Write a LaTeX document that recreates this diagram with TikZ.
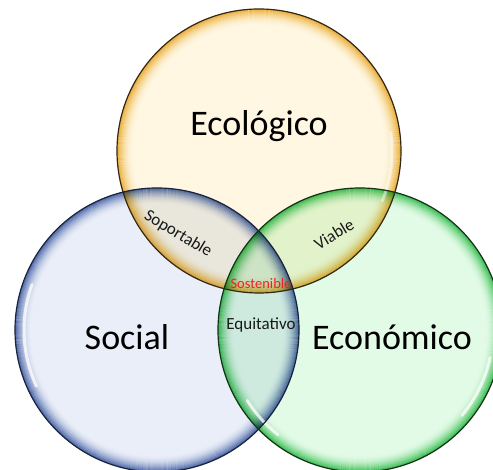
\documentclass[tikz,border=0pt]{standalone}
\usepackage{fontspec}
\setmainfont{Carlito}
\usetikzlibrary{calc}
\definecolor{ecoin}{HTML}{FFF7E2}
\definecolor{ecorim}{HTML}{EDB634}
\definecolor{socin}{HTML}{E9EEF8}
\definecolor{socrim}{HTML}{4D6CB0}
\definecolor{ecnin}{HTML}{E2FBE6}
\definecolor{ecnrim}{HTML}{36C455}
\definecolor{sostred}{HTML}{E8242A}
\tikzset{
  bigtxt/.style={font=\fontsize{36}{40}\selectfont, text=black, inner sep=0pt},
  smalltxt/.style={font=\fontsize{17}{20}\selectfont, text=black!90, inner sep=0pt},
  rimline/.style={line width=1.2pt},
  gloss/.style={white, line width=3pt, line cap=round, opacity=0.75},
}
\newcommand{\glassdisc}[3]{%
  \fill[#2] (#1) circle (142);
  \foreach \i in {0,...,15}{%
    \pgfmathsetmacro{\op}{0.85*(1-\i/16)^2}%
    \draw[#3, line width=1.15pt, draw opacity=\op] (#1) circle ({141.5-\i});
  }%
}
\begin{document}
\begin{tikzpicture}[x=1pt,y=1pt]
\useasboundingbox (0,0) rectangle (493,470);
\coordinate (ceco) at (259,319);
\coordinate (csoc) at (157,140);
\coordinate (cecn) at (360,140);
\begin{scope}[blend group=multiply]
  \glassdisc{ceco}{ecoin}{ecorim}
  \glassdisc{csoc}{socin}{socrim}
  \glassdisc{cecn}{ecnin}{ecnrim}
\end{scope}
% gloss highlights
\draw[gloss] ($(csoc)+(160:133)$) arc (160:205:133);
\draw[gloss] ($(cecn)+(-12:133)$) arc (-12:-40:133);
\draw[gloss] ($(cecn)+(212:133)$) arc (212:232:133);
\draw[gloss,opacity=0.5] ($(ceco)+(8:133)$) arc (8:-22:133);
% outlines
\draw[rimline, draw={rgb,255:red,50;green,40;blue,20}] (ceco) circle (142);
\draw[rimline, draw={rgb,255:red,25;green,35;blue,60}] (csoc) circle (142);
\draw[rimline, draw={rgb,255:red,20;green,50;blue,25}] (cecn) circle (142);
% labels
\node[bigtxt, anchor=base] (teco) at (259,334) {Ecológico};
\node[bigtxt, anchor=base] (tsoc) at (127,120) {Social};
\node[bigtxt, anchor=base] (tecn) at (392,120) {Económico};
\node[smalltxt, rotate=-31] (tsop) at (178,236) {Soportable};
\node[smalltxt, rotate=31] (tvia) at (334,236) {Viable};
\node[smalltxt, anchor=base, text=sostred, font=\fontsize{14.5}{16}\selectfont] (tsos) at (261,181) {Sostenible};
\node[smalltxt, anchor=base] (tequ) at (261,140) {Equitativo};
\end{tikzpicture}
\end{document}
